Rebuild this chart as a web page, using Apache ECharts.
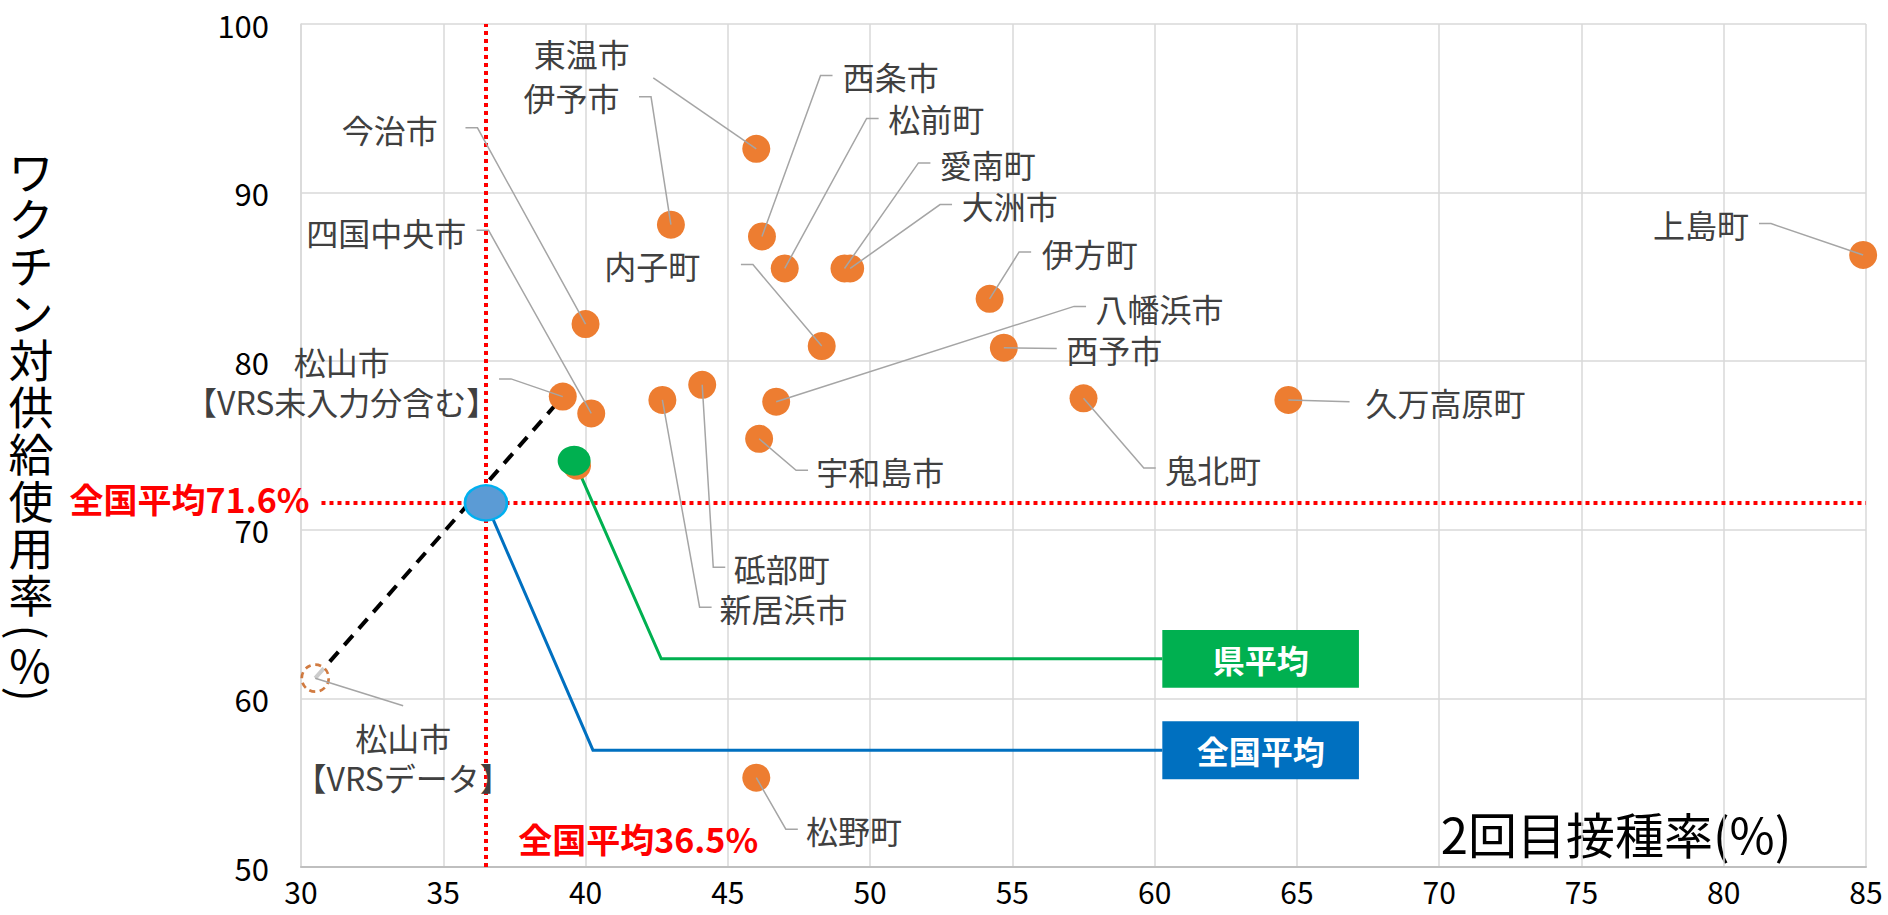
<!DOCTYPE html>
<html>
<head>
<meta charset="utf-8">
<script src="https://cdn.jsdelivr.net/npm/echarts@6/dist/echarts.min.js"></script>
<style>
  html, body { margin: 0; padding: 0; background: #fff; }
  #chart { width: 1888px; height: 915px; }
</style>
</head>
<body>
<div id="chart"></div>
<script>
// Municipalities: 2nd-dose rate (x, %) and vaccine use rate vs supply (y, %)
var cityNames = ['東温市', '伊予市', '西条市', '松前町', '愛南町', '大洲市', '今治市', '四国中央市',
  '松山市\n【VRS未入力分含む】', '内子町', '伊方町', '八幡浜市', '西予市', '上島町', '久万高原町',
  '宇和島市', '鬼北町', '砥部町', '新居浜市', '松野町'];
var secondDoseRate = [46.0, 43.0, 46.2, 47.0, 49.1, 49.3, 40.0, 40.2,
  39.2, 48.3, 54.2, 46.7, 54.7, 84.9, 64.7,
  46.1, 57.5, 44.1, 42.7, 46.0];
var vaccineUseRate = [92.6, 88.1, 87.4, 85.5, 85.5, 85.5, 82.2, 76.9,
  77.9, 80.9, 83.7, 77.6, 80.8, 86.3, 77.7,
  75.4, 77.8, 78.6, 77.7, 55.3];

// Matsuyama computed from VRS data only
var vrsName = '松山市\n【VRSデータ】';
var vrsPoint = [30.5, 61.2];

// averages
var avgNames = ['全国平均', '県平均'];
var avgPoints = [[36.5, 71.6], [39.6, 74.1]];
var prefOrangePoint = [39.7, 73.8];

// axis ticks
var xMin = 30, xMax = 85, xStep = 5;
var yMin = 50, yMax = 100, yStep = 10;

// label layout (data units): [textX, textY, align, leaderX, leaderY, stubDir]
var cityLabelLayout = [
  [41.55, 98.26, 'right', 42.38, 96.8, 0],
  [41.19, 95.68, 'right', 41.88, 95.68, 1],
  [49.04, 96.91, 'left', 48.68, 96.95, -1],
  [50.64, 94.40, 'left', 50.30, 94.40, -1],
  [52.45, 91.72, 'left', 52.12, 91.76, -1],
  [53.22, 89.25, 'left', 52.88, 89.29, -1],
  [34.81, 93.80, 'right', 35.78, 93.84, 1],
  [35.81, 87.66, 'right', 36.17, 87.76, 1],
  [31.43, 78.85, 'center', 36.96, 78.95, 1],
  [44.03, 85.68, 'right', 45.46, 85.73, 1],
  [56.03, 86.44, 'left', 55.66, 86.48, -1],
  [57.92, 83.17, 'left', 57.59, 83.25, -1],
  [56.89, 80.73, 'left', 56.56, 80.75, 0],
  [80.89, 88.16, 'right', 81.24, 88.16, 1],
  [67.41, 77.56, 'left', 66.85, 77.60, 0],
  [48.11, 73.47, 'left', 47.82, 73.53, -1],
  [60.36, 73.60, 'left', 60.04, 73.66, -1],
  [45.21, 67.72, 'left', 44.91, 67.78, -1],
  [44.71, 65.35, 'left', 44.43, 65.41, -1],
  [47.75, 52.18, 'left', 47.46, 52.24, -1]
];
var vrsLabelLayout = [33.59, 56.53, 'center', 33.59, 59.56, 0];

// callout boxes for the averages: elbow point and box [x0, x1, y0, y1]
var calloutLayout = [
  { elbow: [40.26, 56.93], box: [60.27, 67.18, 55.2, 58.65], color: '#0070c0' },
  { elbow: [42.66, 62.35], box: [60.27, 67.18, 60.63, 64.06], color: '#00b050' }
];

var FONT = '"Noto Sans CJK JP", "Noto Sans", sans-serif';

var dom = document.getElementById('chart');
var myChart = echarts.init(dom, null, { renderer: 'svg' });

var cityData = cityNames.map(function (n, i) {
  return { name: n, value: [secondDoseRate[i], vaccineUseRate[i]] };
});

var labelTexts = cityNames.concat([vrsName]);
var labelLayout = cityLabelLayout.concat([vrsLabelLayout]);
var labelItems = cityNames.map(function (n, i) {
  return [secondDoseRate[i], vaccineUseRate[i], i];
});
labelItems.push([vrsPoint[0], vrsPoint[1], cityNames.length]);

var nat = avgPoints[0];

function renderLabel(params, api) {
  var k = api.value(2);
  var lay = labelLayout[k];
  var p = api.coord([api.value(0), api.value(1)]);
  var t = api.coord([lay[0], lay[1]]);
  var e = api.coord([lay[3], lay[4]]);
  var pts = [p];
  if (lay[5]) {
    pts.push([e[0] + lay[5] * 12, e[1]]);
  }
  pts.push(e);
  return {
    type: 'group',
    children: [
      { type: 'polyline', shape: { points: pts },
        style: { stroke: '#a5a5a5', lineWidth: 1.5, fill: null } },
      { type: 'text', x: t[0], y: t[1],
        style: { text: labelTexts[k], align: lay[2], verticalAlign: 'middle',
          fontSize: 32, lineHeight: 40, fontFamily: FONT, fill: '#404040' } }
    ]
  };
}

function renderCallout(params, api) {
  var k = api.value(2);
  var c = calloutLayout[k];
  var p = api.coord([api.value(0), api.value(1)]);
  var elbow = api.coord(c.elbow);
  var tl = api.coord([c.box[0], c.box[3]]);
  var br = api.coord([c.box[1], c.box[2]]);
  return {
    type: 'group',
    children: [
      { type: 'polyline', shape: { points: [p, elbow, [tl[0], elbow[1]]] },
        style: { stroke: c.color, lineWidth: 3, fill: null } },
      { type: 'rect', shape: { x: tl[0], y: tl[1], width: br[0] - tl[0], height: br[1] - tl[1] },
        style: { fill: c.color } },
      { type: 'text', x: (tl[0] + br[0]) / 2, y: (tl[1] + br[1]) / 2,
        style: { text: avgNames[k], align: 'center', verticalAlign: 'middle',
          fontSize: 32, fontWeight: 'bold', fontFamily: FONT, fill: '#fff' } }
    ]
  };
}

// red notes for the national average lines
var notes = [
  { pos: [41.85, 51.7], text: '全国平均' + nat[0] + '%', align: 'center' },
  { pos: [30.3, 71.85], text: '全国平均' + nat[1] + '%', align: 'right' }
];

function renderNote(params, api) {
  var n = notes[params.dataIndex];
  var pt = api.coord(n.pos);
  return { type: 'text', x: pt[0], y: pt[1],
    style: { text: n.text, align: n.align, verticalAlign: 'middle', lineHeight: 30,
      fontSize: 34, fontWeight: 'bold', fontFamily: FONT, fill: '#ff0000' } };
}

// vertical y-axis name; brackets are turned sideways as in vertical writing
var yNameChars = ['ワ', 'ク', 'チ', 'ン', '対', '供', '給', '使', '用', '率'];
var yNameStyle = { fontSize: 45, fontFamily: FONT, fill: '#000', align: 'center', verticalAlign: 'middle' };

var option = {
  animation: false,
  backgroundColor: '#fff',
  grid: { left: 301, right: 22, top: 24, bottom: 48 },
  xAxis: {
    type: 'value', min: xMin, max: xMax, interval: xStep,
    axisLine: { show: true, onZero: false, lineStyle: { color: '#bfbfbf', width: 2 } },
    axisTick: { show: false },
    axisLabel: { fontSize: 30, lineHeight: 30, color: '#000', margin: 9, fontFamily: FONT },
    splitLine: { show: true, lineStyle: { color: '#d9d9d9', width: 1.5 } }
  },
  yAxis: {
    type: 'value', min: yMin, max: yMax, interval: yStep,
    axisLine: { show: true, lineStyle: { color: '#d9d9d9', width: 1.5 } },
    axisTick: { show: false },
    axisLabel: { fontSize: 31, lineHeight: 30, color: '#000', margin: 32, fontFamily: FONT },
    splitLine: { show: true, lineStyle: { color: '#d9d9d9', width: 1.5 } }
  },
  graphic: [
    { type: 'text', x: 31, y: 147,
      style: { text: yNameChars.join('\n'), align: 'center', verticalAlign: 'top',
        fontSize: 45, lineHeight: 47, fontFamily: FONT, fill: '#000' } },
    { type: 'text', x: 30, y: 632, rotation: -Math.PI / 2,
      style: echarts.util.extend({ text: '(' }, yNameStyle) },
    { type: 'text', x: 30, y: 663,
      style: echarts.util.extend({ text: '%' }, yNameStyle) },
    { type: 'text', x: 30, y: 694, rotation: -Math.PI / 2,
      style: echarts.util.extend({ text: ')' }, yNameStyle) },
    { type: 'text', x: 1616, y: 832,
      style: { text: '2回目接種率(%)', align: 'center', verticalAlign: 'middle',
        fontSize: 49, fontFamily: FONT, fill: '#000' } }
  ],
  series: [
    {
      // dashed link between the two Matsuyama values
      name: 'matsuyama-link',
      type: 'line',
      z: 3,
      symbol: 'none',
      data: [vrsPoint, [secondDoseRate[8], vaccineUseRate[8]]],
      lineStyle: { color: '#000', width: 4, type: [13, 9] },
      markLine: {
        silent: true,
        z: 4,
        symbol: ['none', 'none'],
        label: { show: false },
        lineStyle: { color: '#ff0000', width: 4, type: [4, 4] },
        data: [
          { xAxis: nat[0] },
          [{ coord: [30.72, nat[1]] }, { coord: [xMax, nat[1]] }]
        ]
      }
    },
    {
      name: 'callouts',
      type: 'custom',
      z: 5,
      renderItem: renderCallout,
      data: avgPoints.map(function (p, i) { return [p[0], p[1], i]; })
    },
    {
      name: 'cities',
      type: 'scatter',
      z: 10,
      symbolSize: 28,
      itemStyle: { color: '#ed7d31', opacity: 1 },
      data: cityData.concat([prefOrangePoint])
    },
    {
      name: 'vrs',
      type: 'scatter',
      z: 10,
      symbolSize: 27,
      itemStyle: { color: '#fff', borderColor: '#c55a11', borderWidth: 2.7, borderType: [6, 4.5] },
      data: [vrsPoint]
    },
    {
      name: '県平均',
      type: 'scatter',
      z: 11,
      symbolSize: [33, 30],
      itemStyle: { color: '#00b050', opacity: 1 },
      data: [avgPoints[1]]
    },
    {
      name: '全国平均',
      type: 'scatter',
      z: 11,
      symbolSize: [42, 35],
      itemStyle: { color: '#5b9bd5', borderColor: '#00b0f0', borderWidth: 2.5, opacity: 1 },
      data: [avgPoints[0]]
    },
    {
      name: 'labels',
      type: 'custom',
      z: 12,
      renderItem: renderLabel,
      data: labelItems
    },
    {
      name: 'notes',
      type: 'custom',
      z: 12,
      renderItem: renderNote,
      data: notes.map(function (n) { return n.pos; })
    }
  ]
};

myChart.setOption(option);
</script>
</body>
</html>
